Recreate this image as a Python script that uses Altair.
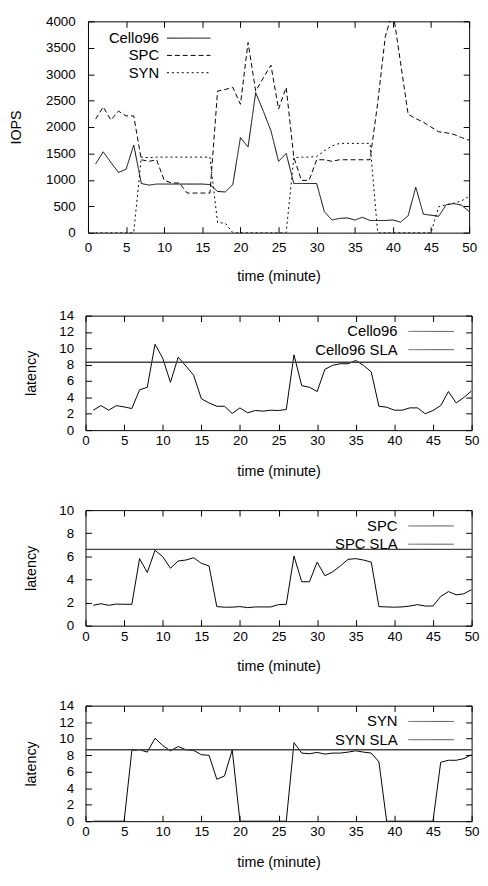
import altair as alt
import pandas as pd

time = list(range(1, 51))

cello_iops = [1300, 1530, 1330, 1140, 1200, 1660, 930, 900, 920, 920,
              920, 920, 920, 920, 920, 910, 780, 770, 910, 1800,
              1620, 2650, 2300, 1930, 1350, 1500, 930, 930, 930, 930,
              400, 240, 270, 280, 240, 290, 230, 230, 230, 240,
              200, 320, 860, 350, 330, 310, 530, 550, 520, 400]
spc_iops = [2150, 2380, 2130, 2300, 2210, 2210, 1380, 1350, 1380, 990,
            940, 940, 750, 750, 750, 750, 2680, 2710, 2750, 2430,
            3600, 2680, 2930, 3170, 2340, 2750, 1430, 990, 990, 1380,
            1380, 1350, 1380, 1380, 1380, 1380, 1380, 2450, 3710, 4200,
            3220, 2240, 2160, 2090, 2000, 1910, 1890, 1860, 1800, 1750]
syn_iops = [0, 0, 0, 0, 0, 0, 1430, 1420, 1430, 1430,
            1430, 1430, 1430, 1430, 1430, 1430, 190, 180, 0, 0,
            0, 0, 0, 0, 0, 0, 1420, 1430, 1430, 1440,
            1550, 1640, 1690, 1690, 1690, 1690, 1690, 0, 0, 0,
            0, 0, 0, 0, 0, 490, 530, 560, 600, 690]

cello_lat = [2.44, 3.0, 2.44, 3.0, 2.84, 2.64, 4.92, 5.24, 10.5, 8.8,
             5.84, 8.92, 7.84, 6.72, 3.84, 3.32, 2.92, 2.92, 2.04, 2.72,
             2.12, 2.4, 2.32, 2.44, 2.4, 2.52, 9.2, 5.44, 5.24, 4.72,
             7.44, 7.92, 8.12, 8.12, 8.52, 7.92, 7.12, 2.92, 2.8, 2.44,
             2.44, 2.72, 2.72, 2.0, 2.4, 3.0, 4.72, 3.32, 4.0, 4.8]
spc_lat = [1.76, 1.9, 1.76, 1.87, 1.85, 1.85, 5.8, 4.6, 6.53, 5.97,
           4.97, 5.6, 5.68, 5.88, 5.4, 5.17, 1.65, 1.6, 1.6, 1.65,
           1.56, 1.62, 1.62, 1.62, 1.82, 1.85, 6.02, 3.8, 3.8, 5.5,
           4.32, 4.66, 5.17, 5.74, 5.8, 5.68, 5.5, 1.65, 1.62, 1.6,
           1.62, 1.7, 1.82, 1.7, 1.7, 2.53, 2.95, 2.67, 2.76, 3.12]
syn_lat = [0, 0, 0, 0, 0, 8.57, 8.65, 8.37, 10.04, 9.17,
           8.53, 9.05, 8.65, 8.57, 8.06, 7.98, 5.08, 5.48, 8.65, 0,
           0, 0, 0, 0, 0, 0, 9.52, 8.25, 8.17, 8.33,
           8.13, 8.25, 8.25, 8.37, 8.53, 8.37, 8.25, 7.18, 0, 0,
           0, 0, 0, 0, 0, 7.14, 7.38, 7.38, 7.58, 8.06]

sla_values = {"Cello96": 8.3, "SPC": 6.6, "SYN": 8.65}
series_names = ["Cello96", "SPC", "SYN"]
x_ticks = [0, 5, 10, 15, 20, 25, 30, 35, 40, 45, 50]
iops_ticks = [0, 500, 1000, 1500, 2000, 2500, 3000, 3500, 4000]
lat_ticks14 = [0, 2, 4, 6, 8, 10, 12, 14]
lat_ticks10 = [0, 2, 4, 6, 8, 10]

FONT = "Liberation Sans"
LFS = 13.5
TFS = 14.5
TICK = 6


def axis_main(orient, ticks, title, label_pad, title_pad):
    return alt.Axis(orient=orient, values=ticks, title=title, offset=-TICK,
                    tickSize=TICK, labelPadding=label_pad, titlePadding=title_pad,
                    grid=False, domain=False, labelFlush=False, format="d")


def axis_mirror(orient, ticks):
    return alt.Axis(orient=orient, values=ticks, title=None, labels=False,
                    offset=-TICK, tickSize=TICK, grid=False, domain=False)


def legend_layer(labels, text_x, sample_x0, sample_x1, rows, dashes, color):
    layers = []
    for lab, ry, dash in zip(labels, rows, dashes):
        layers.append(
            alt.Chart(pd.DataFrame({"k": [0]})).mark_text(
                text=lab, align="right", baseline="middle", font=FONT,
                fontSize=15, color="black").encode(
                x=alt.value(text_x), y=alt.value(ry)))
        layers.append(
            alt.Chart(pd.DataFrame({"k": [0]})).mark_rule(
                color=color, strokeWidth=1, strokeDash=dash).encode(
                x=alt.value(sample_x0), x2=alt.value(sample_x1), y=alt.value(ry)))
    return layers


# ---------- Panel 1: IOPS ----------
iops_df = pd.DataFrame({
    "t": time * 3,
    "iops": cello_iops + spc_iops + syn_iops,
    "series": ["Cello96"] * 50 + ["SPC"] * 50 + ["SYN"] * 50,
})
xs = alt.Scale(domain=[0, 50], nice=False)
ys1 = alt.Scale(domain=[0, 4000], nice=False)
dash_scale = alt.Scale(domain=series_names, range=[[1, 0], [5, 3], [2, 3]])

base1 = alt.Chart(iops_df)
lines1 = base1.mark_line(color="black", strokeWidth=1, clip=True).encode(
    x=alt.X("t:Q", scale=xs, axis=axis_main("bottom", x_ticks, "time (minute)", 8, 16)),
    y=alt.Y("iops:Q", scale=ys1, axis=axis_main("left", iops_ticks, "IOPS", 13, 22)),
    strokeDash=alt.StrokeDash("series:N", scale=dash_scale, legend=None),
    detail="series:N",
)
mirror1 = base1.mark_line(opacity=0, clip=True).encode(
    x=alt.X("t:Q", scale=xs, axis=axis_mirror("top", x_ticks)),
    y=alt.Y("iops:Q", scale=ys1, axis=axis_mirror("right", iops_ticks)),
    detail="series:N",
)
leg1 = legend_layer(series_names, 72, 80, 124, [17, 34.5, 52],
                    [[1, 0], [5, 3], [2, 3]], "black")
p1 = alt.layer(lines1, mirror1, *leg1).resolve_axis(
    x="independent", y="independent").properties(width=386, height=214)


def lat_panel(values, name, ymax, ticks, h):
    df = pd.DataFrame({"t": time, "lat": values})
    ys = alt.Scale(domain=[0, ymax], nice=False)
    base = alt.Chart(df)
    line = base.mark_line(color="black", strokeWidth=1, clip=True).encode(
        x=alt.X("t:Q", scale=xs, axis=axis_main("bottom", x_ticks, "time (minute)", 4, 17)),
        y=alt.Y("lat:Q", scale=ys, axis=axis_main("left", ticks, "latency", 12, 21)),
    )
    mirror = base.mark_line(opacity=0, clip=True).encode(
        x=alt.X("t:Q", scale=xs, axis=axis_mirror("top", x_ticks)),
        y=alt.Y("lat:Q", scale=ys, axis=axis_mirror("right", ticks)),
    )
    sla = alt.Chart(pd.DataFrame({"sla": [sla_values[name]]})).mark_rule(
        color="#444444", strokeWidth=1.4).encode(
        y=alt.Y("sla:Q", scale=ys, axis=None))
    leg = legend_layer([name, name + " SLA"], 316, 327, 373, [16, 34.5],
                       [[1, 0], [1, 0]], "#555555")
    return alt.layer(line, mirror, sla, *leg).resolve_axis(
        x="independent", y="independent").properties(width=391, height=h)


p2 = lat_panel(cello_lat, "Cello96", 14, lat_ticks14, 116)
p3 = lat_panel(spc_lat, "SPC", 10, lat_ticks10, 117)
p4 = lat_panel(syn_lat, "SYN", 14, lat_ticks14, 117)

chart = alt.vconcat(p1, p2, p3, p4, spacing=24, center=True).properties(
    padding={"left": 0, "top": 0, "right": 0, "bottom": 0}
).configure_view(stroke="black", strokeWidth=1).configure_axis(
    labelFont=FONT, labelFontSize=LFS, labelColor="black",
    titleFont=FONT, titleFontSize=TFS, titleFontWeight="normal", titleColor="black",
    tickColor="black", tickWidth=1,
).configure_text(font=FONT)

chart.save("out.html", embed_options={"renderer": "svg", "actions": False})
